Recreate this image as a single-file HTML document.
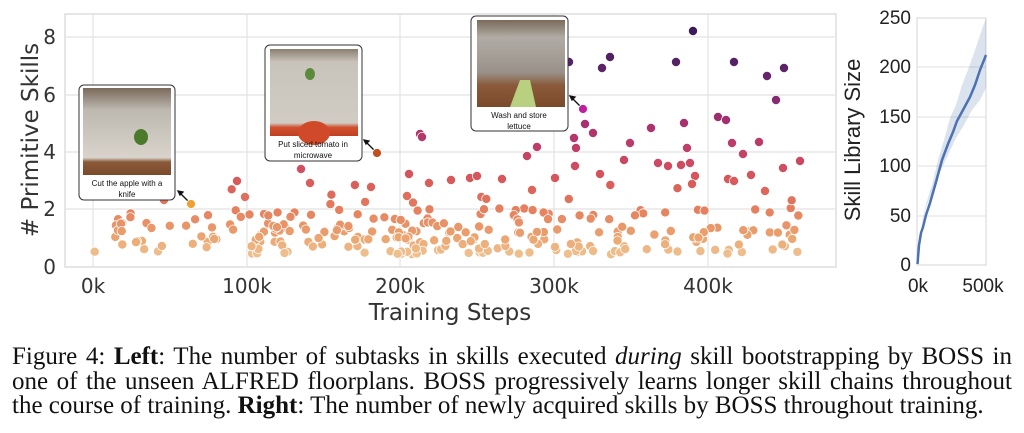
<!DOCTYPE html>
<html><head><meta charset="utf-8"><style>
html,body{margin:0;padding:0;background:#fff;width:1024px;height:433px;overflow:hidden}
.cap{position:absolute;left:12px;top:345px;width:1000px;font-family:"Liberation Serif",serif;font-size:25px;line-height:24.5px;color:#111}
.cap span{display:block;text-align:justify;text-align-last:justify;white-space:nowrap}
.cap span.l{text-align-last:left}
</style></head><body>
<svg id="s" width="1024" height="340" style="position:absolute;left:0;top:0" font-family="DejaVu Sans, sans-serif">
<defs>
<linearGradient id="g1" x1="0" y1="0" x2="0" y2="1"><stop offset="0" stop-color="#7a6a5a"/><stop offset="0.25" stop-color="#bdb8b0"/><stop offset="0.8" stop-color="#d8d4cc"/><stop offset="0.85" stop-color="#8a5a3a"/><stop offset="1" stop-color="#7a4a2a"/></linearGradient>
<linearGradient id="g2" x1="0" y1="0" x2="0" y2="1"><stop offset="0" stop-color="#8a7f70"/><stop offset="0.15" stop-color="#c8c3bb"/><stop offset="0.85" stop-color="#d0ccc4"/><stop offset="0.9" stop-color="#d05030"/><stop offset="1" stop-color="#c04020"/></linearGradient>
<linearGradient id="g3" x1="0" y1="0" x2="0" y2="1"><stop offset="0" stop-color="#7a6a5a"/><stop offset="0.2" stop-color="#b0aca5"/><stop offset="0.6" stop-color="#9a928a"/><stop offset="0.75" stop-color="#8a5a3a"/><stop offset="1" stop-color="#7a4a2a"/></linearGradient>
</defs>
<rect x="65" y="14" width="771" height="253" fill="#fff" stroke="#d4d4d4" stroke-width="1.2"/>
<g stroke="#e2e2e2" stroke-width="1.2">
<line x1="65" x2="836" y1="37" y2="37"/><line x1="65" x2="836" y1="95" y2="95"/><line x1="65" x2="836" y1="152" y2="152"/><line x1="65" x2="836" y1="209" y2="209"/>
<line x1="93" x2="93" y1="14" y2="267"/><line x1="247" x2="247" y1="14" y2="267"/><line x1="400" x2="400" y1="14" y2="267"/><line x1="554" x2="554" y1="14" y2="267"/><line x1="708" x2="708" y1="14" y2="267"/>
</g>
<g id="pts"></g>
<g font-size="20" fill="#333" text-anchor="end">
<text x="56" y="274">0</text><text x="56" y="216">2</text><text x="56" y="159">4</text><text x="56" y="102">6</text><text x="56" y="44">8</text>
</g>
<g font-size="20" fill="#333" text-anchor="middle">
<text x="93" y="293">0k</text><text x="247" y="293">100k</text><text x="400" y="293">200k</text><text x="554" y="293">300k</text><text x="708" y="293">400k</text>
</g>
<text x="450" y="320" font-size="23" fill="#333" text-anchor="middle">Training Steps</text>
<text transform="translate(38,140) rotate(-90)" font-size="23" fill="#333" text-anchor="middle"># Primitive Skills</text>
<g>
<rect x="79" y="85" width="96" height="115" rx="5" fill="#fff" stroke="#333" stroke-width="1"/>
<rect x="83" y="88" width="88" height="87" fill="url(#g1)"/>
<ellipse cx="141" cy="137" rx="7" ry="8" fill="#4a7a2a"/>
<text x="127" y="186" font-family="Liberation Sans, sans-serif" font-size="8" text-anchor="middle" fill="#111">Cut the apple with a</text>
<text x="127" y="197" font-family="Liberation Sans, sans-serif" font-size="8" text-anchor="middle" fill="#111">knife</text>
<rect x="265" y="45" width="97" height="116" rx="5" fill="#fff" stroke="#333" stroke-width="1"/>
<rect x="270" y="49" width="88" height="87" fill="url(#g2)"/>
<ellipse cx="314" cy="133" rx="16" ry="12" fill="#d04a2a"/>
<ellipse cx="310" cy="74" rx="5" ry="6" fill="#5a8a3a"/>
<text x="313" y="147" font-family="Liberation Sans, sans-serif" font-size="8" text-anchor="middle" fill="#111">Put sliced tomato in</text>
<text x="313" y="158" font-family="Liberation Sans, sans-serif" font-size="8" text-anchor="middle" fill="#111">microwave</text>
<rect x="471" y="16" width="97" height="115" rx="5" fill="#fff" stroke="#333" stroke-width="1"/>
<rect x="477" y="20" width="88" height="87" fill="url(#g3)"/>
<path d="M510 107 L520 80 L530 80 L536 107 Z" fill="#b8d080"/>
<text x="519" y="118" font-family="Liberation Sans, sans-serif" font-size="8" text-anchor="middle" fill="#111">Wash and store</text>
<text x="519" y="129" font-family="Liberation Sans, sans-serif" font-size="8" text-anchor="middle" fill="#111">lettuce</text>
</g>
<g stroke="#111" stroke-width="1.3" fill="#111">
<line x1="180" y1="193" x2="188" y2="201"/><path d="M178 191 L183 192 L180 195Z"/>
<line x1="366" y1="142" x2="374" y2="150"/><path d="M364 140 L369 141 L366 144Z"/>
<line x1="572" y1="98" x2="580" y2="106"/><path d="M570 96 L575 97 L572 100Z"/>
</g>
<g stroke="#fff" stroke-width="0.8">
<circle cx="191" cy="204" r="4.5" fill="#f0a030"/>
<circle cx="377" cy="153" r="4.5" fill="#c05020"/>
<circle cx="583" cy="109" r="4.5" fill="#c020a0"/>
</g>
<rect x="917" y="18" width="69" height="247" fill="#fff" stroke="#d4d4d4" stroke-width="1"/>
<g stroke="#e0e0e0" stroke-width="1"><line x1="917" x2="986" y1="67" y2="67"/><line x1="917" x2="986" y1="117" y2="117"/><line x1="917" x2="986" y1="166" y2="166"/><line x1="917" x2="986" y1="216" y2="216"/></g>
<path d="M917 265 L919 240 L922 222 L926 204 L932 185 L938 160 L944 140 L950 118 L956 105 L962 85 L968 70 L975 50 L980 35 L986 18 L986 88 L980 100 L972 110 L964 125 L956 138 L948 155 L940 172 L932 192 L926 208 L921 228 L918 250 Z" fill="#4c72b0" opacity="0.2"/>
<path d="M917.5 264 L919 245 L921 233 L923 227 L926 215 L930 203 L936 182 L942 160 L948 144 L953 132 L957 121 L963 110 L970 97 L975 85 L980 70 L986 55" fill="none" stroke="#4c72b0" stroke-width="2.5"/>
<g font-family="Liberation Sans, sans-serif" font-size="19" fill="#222" text-anchor="end">
<text x="911" y="24">250</text><text x="911" y="73">200</text><text x="911" y="123">150</text><text x="911" y="172">100</text><text x="911" y="222">50</text><text x="911" y="271">0</text>
</g>
<g font-family="Liberation Sans, sans-serif" font-size="19" fill="#222" text-anchor="middle"><text x="918" y="292">0k</text><text x="983" y="292">500k</text></g>
<text transform="translate(860,140) rotate(-90)" font-family="Liberation Sans, sans-serif" font-size="22" fill="#222" text-anchor="middle">Skill Library Size</text>
</svg>
<div class="cap"><span>Figure 4: <b>Left</b>: The number of subtasks in skills executed <i>during</i> skill bootstrapping by BOSS in</span><span>one of the unseen ALFRED floorplans. BOSS progressively learns longer skill chains throughout</span><span class="l">the course of training. <b>Right</b>: The number of newly acquired skills by BOSS throughout training.</span></div>
<script>
(function(){
var stops=[[0.5,[238,190,140]],[1,[236,165,112]],[2,[229,128,94]],[3,[216,90,90]],[4,[196,64,104]],[5,[168,48,111]],[6,[125,42,112]],[7,[90,35,104]],[8,[61,26,92]]];
function col(v){if(v<=0.5)return 'rgb(238,190,140)';for(var i=1;i<stops.length;i++){if(v<=stops[i][0]){var a=stops[i-1],b=stops[i],t=(v-a[0])/(b[0]-a[0]);return 'rgb('+[0,1,2].map(function(k){return Math.round(a[1][k]+(b[1][k]-a[1][k])*t)}).join(',')+')';}}return 'rgb(61,26,92)';}
var s=12345;function r(){s=(s*16807)%2147483647;return s/2147483647;}
var g=document.getElementById('pts'),h='';
function add(x,y,v){h+='<circle cx="'+x.toFixed(1)+'" cy="'+y.toFixed(1)+'" r="4.6" fill="'+col(v)+'" stroke="#fff" stroke-width="0.8"/>';}
function yv(y){return (267-y)/28.7;}
var lv=[0.5,0.5,0.6,0.75,0.75,0.9,1,1,1.1,1.25,1.25,1.4,1.5,1.7,1.85,2];
for(var i=0;i<270;i++){var x=93+ (i<6? r()*150 : 20+r()*690);var v=lv[Math.floor(r()*lv.length)]+(r()-0.5)*0.12;if(x<200&&r()<0.5)continue;var y=267-v*28.7;add(x,y,v);}
for(var i=0;i<12;i++){var x=230+r()*570;var v=2+r()*0.9;add(x,267-v*28.7,v);}
var m=[[693,31],[569,62],[602,68],[610,57],[676,62],[734,62],[767,76],[784,68],[776,100],[718,117],[726,120],[684,123],[651,128],[585,124],[593,133],[630,143],[732,143],[759,142],[743,154],[576,148],[537,147],[527,156],[687,148],[800,161],[783,168],[575,166],[600,174],[624,160],[658,163],[668,166],[681,165],[690,163],[695,176],[692,184],[728,179],[734,181],[751,175],[765,191],[555,178],[532,190],[502,179],[451,180],[429,183],[470,178],[477,176],[237,181],[301,169],[310,183],[371,187],[409,174],[407,196],[420,134],[422,137],[245,197],[164,200],[574,138]];
m.forEach(function(p){add(p[0],p[1],yv(p[1]));});
g.innerHTML=h;
})();
</script>
</body></html>
